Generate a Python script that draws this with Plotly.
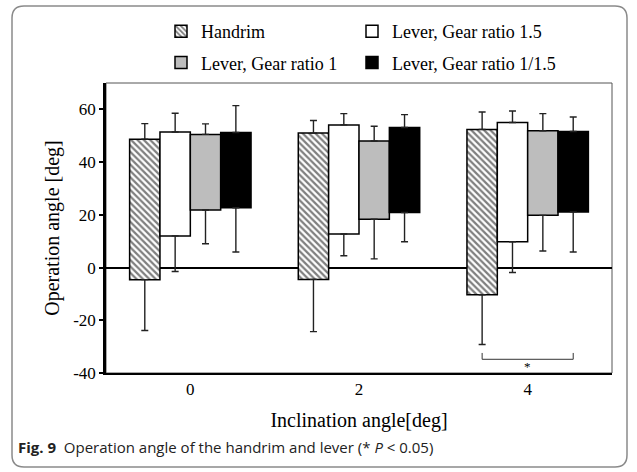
import plotly.graph_objects as go

# ---------------- data ----------------
inclination = ["0", "2", "4"]
series_names = ["Handrim", "Lever, Gear ratio 1.5", "Lever, Gear ratio 1", "Lever, Gear ratio 1/1.5"]

# start (bottom) and end (top) of operation angle [deg]
handrim_start = [-4.6, -4.5, -10.3]
handrim_end = [48.7, 51.0, 52.4]
lever15_start = [12.0, 12.7, 9.8]
lever15_end = [51.4, 54.1, 55.0]
lever1_start = [21.8, 18.3, 19.8]
lever1_end = [50.5, 48.0, 51.9]
lever067_start = [22.7, 20.9, 21.1]
lever067_end = [51.2, 53.1, 51.6]

# SD error bars: upper end (above top) and lower end (below bottom)
handrim_err_up = [5.9, 4.8, 6.6]
handrim_err_dn = [19.3, 19.8, 18.9]
lever15_err_up = [7.1, 4.3, 4.4]
lever15_err_dn = [13.5, 8.2, 11.7]
lever1_err_up = [4.0, 5.6, 6.5]
lever1_err_dn = [12.8, 15.0, 13.5]
lever067_err_up = [10.2, 4.9, 5.5]
lever067_err_dn = [16.8, 11.1, 15.2]

y_ticks = [-40, -20, 0, 20, 40, 60]
y_tick_text = ["-40", "-20", "0", "20", "40", "60"]

# significance bracket (handrim vs lever 1/1.5 at 4 deg)
sig_group = 2
sig_from, sig_to = 0, 3
sig_y = -34.8
sig_tick_y = -32.4
sig_star_y = -37.6

# ---------------- styling ----------------
serif = "Liberation Serif"
fills = ["white", "white", "#bdbdbd", "black"]
starts = [handrim_start, lever15_start, lever1_start, lever067_start]
ends = [handrim_end, lever15_end, lever1_end, lever067_end]
ups = [handrim_err_up, lever15_err_up, lever1_err_up, lever067_err_up]
dns = [handrim_err_dn, lever15_err_dn, lever1_err_dn, lever067_err_dn]
legend_of = ["legend", "legend2", "legend", "legend2"]
bargap = 0.28
x_pos = list(range(len(inclination)))

fig = go.Figure()
for i, name in enumerate(series_names):
    marker = dict(color=fills[i], line=dict(color="black", width=1.5))
    if i == 0:
        marker["pattern"] = dict(shape="\\", fgcolor="black", bgcolor="white", size=4.5, solidity=0.5)
    # visible bar from start to end, upper error bar on top
    fig.add_trace(go.Bar(
        x=x_pos, y=[e - s for s, e in zip(starts[i], ends[i])], base=starts[i],
        name=name, offsetgroup=str(i), marker=marker,
        legend=legend_of[i], legendgroup=str(i),
        error_y=dict(type="data", symmetric=False, array=ups[i],
                     arrayminus=[0] * len(x_pos), color="#222", thickness=1.4, width=3.5),
        hoverinfo="skip",
    ))
    # invisible bar from end down to start, carrying the lower error bar
    fig.add_trace(go.Bar(
        x=x_pos, y=[s - e for s, e in zip(starts[i], ends[i])], base=ends[i],
        offsetgroup=str(i), showlegend=False, legend=legend_of[i], legendgroup=str(i),
        marker=dict(color="rgba(0,0,0,0)", line=dict(width=0)),
        error_y=dict(type="data", symmetric=False, array=[0] * len(x_pos),
                     arrayminus=dns[i], color="#222", thickness=1.4, width=3.5),
        hoverinfo="skip",
    ))

# bracket positions from bar geometry
n = len(series_names)
bw = (1 - bargap) / n
def bar_center(g, k):
    return g - (1 - bargap) / 2 + bw * (k + 0.5)
xa, xb = bar_center(sig_group, sig_from), bar_center(sig_group, sig_to)

shapes = [
    dict(type="rect", xref="paper", yref="paper", x0=0, x1=1, y0=0, y1=1,
         line=dict(color="#555", width=1), layer="below"),
    dict(type="path", xref="x", yref="y",
         path=f"M {xa} {sig_tick_y} L {xa} {sig_y} L {xb} {sig_y} L {xb} {sig_tick_y}",
         line=dict(color="#333", width=1)),
]

# rounded outer border (pixel -> paper)
W, H = 637, 472
ml, mr, mt, mb = 106, 25, 83, 99
pw, ph = W - ml - mr, H - mt - mb
def px(x):
    return (x - ml) / pw
def py(y):
    return (H - mb - y) / ph
L, R, T, B, rr = 12, 627, 6, 467, 12
path = (f"M {px(L)} {py(T+rr)} Q {px(L)} {py(T)} {px(L+rr)} {py(T)} "
        f"L {px(R-rr)} {py(T)} Q {px(R)} {py(T)} {px(R)} {py(T+rr)} "
        f"L {px(R)} {py(B-rr)} Q {px(R)} {py(B)} {px(R-rr)} {py(B)} "
        f"L {px(L+rr)} {py(B)} Q {px(L)} {py(B)} {px(L)} {py(B-rr)} Z")
shapes.append(dict(type="path", xref="paper", yref="paper", path=path,
                   line=dict(color="#8a8a8a", width=1.5), layer="below"))

annotations = [
    dict(x=(xa + xb) / 2, y=sig_star_y, xref="x", yref="y", text="*", showarrow=False,
         font=dict(family=serif, size=13, color="black")),
    dict(x=px(16), y=py(447), xref="paper", yref="paper", xanchor="left", yanchor="middle",
         showarrow=False, align="left",
         text="<b>Fig. 9</b>  Operation angle of the handrim and lever (* <i>P</i> &lt; 0.05)",
         font=dict(family="Open Sans", size=15, color="#222")),
]

legend_style = dict(bgcolor="rgba(0,0,0,0)", borderwidth=0, tracegroupgap=5,
                    font=dict(family=serif, size=18, color="black"),
                    orientation="v", xanchor="left", yanchor="top", itemwidth=30)

fig.update_layout(
    width=W, height=H,
    margin=dict(l=ml, r=mr, t=mt, b=mb, autoexpand=False),
    paper_bgcolor="white", plot_bgcolor="white",
    barmode="group", bargap=bargap, bargroupgap=0,
    font=dict(family=serif, size=17, color="black"),
    showlegend=True,
    legend=dict(x=px(161), y=py(13), **legend_style),
    legend2=dict(x=px(352), y=py(13), **legend_style),
    xaxis=dict(range=[-0.5, 2.5], tickvals=x_pos, ticktext=inclination,
               showgrid=False, zeroline=False, showline=True, linecolor="black", linewidth=2,
               ticks="", tickfont=dict(family=serif, size=17, color="black"),
               title=dict(text="Inclination angle[deg]", font=dict(family=serif, size=20, color="black"),
                          standoff=15)),
    yaxis=dict(range=[-40, 70], tickvals=y_ticks, ticktext=y_tick_text,
               showgrid=False, zeroline=True, zerolinecolor="black", zerolinewidth=2,
               showline=True, linecolor="black", linewidth=2.5,
               ticks="outside", ticklen=4, tickcolor="black", tickwidth=1.5,
               tickfont=dict(family=serif, size=17, color="black"),
               title=dict(text="Operation angle [deg]", font=dict(family=serif, size=20, color="black"),
                          standoff=9)),
    shapes=shapes, annotations=annotations,
)

fig.write_html("out.html", config={"displayModeBar": False},
               post_script="document.body.style.margin='0px';document.body.style.overflow='hidden';")
